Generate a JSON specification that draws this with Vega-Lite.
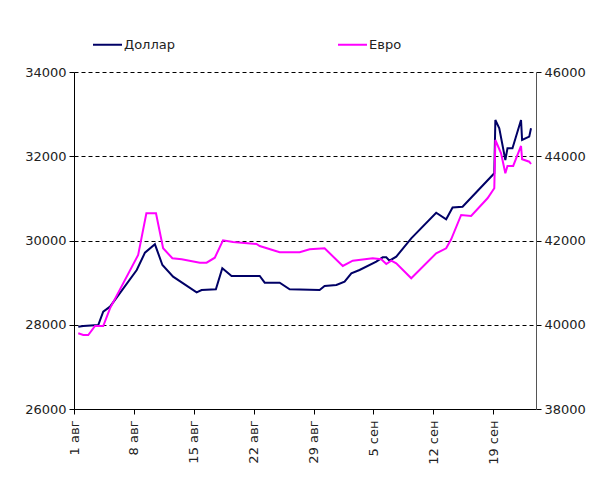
{
  "$schema": "https://vega.github.io/schema/vega-lite/v6.json",
  "width": 462,
  "height": 337,
  "autosize": {"type": "none"},
  "padding": {"left": 74, "top": 72, "right": 64, "bottom": 80},
  "background": "white",
  "config": {
    "view": {"stroke": null},
    "font": "DejaVu Sans",
    "axis": {"labelFont": "DejaVu Sans", "labelFontSize": 13, "labelColor": "#222", "domainColor": "#000", "tickColor": "#000", "tickSize": 5, "labelPadding": 3}
  },
  "datasets": {
    "rates": [
      {"date": "2011-08-01T12:00:00Z", "currency": "Доллар", "rate": 27954},
      {"date": "2011-08-02T02:00:00Z", "currency": "Доллар", "rate": 27970},
      {"date": "2011-08-03T20:00:00Z", "currency": "Доллар", "rate": 27994},
      {"date": "2011-08-04T10:00:00Z", "currency": "Доллар", "rate": 28310},
      {"date": "2011-08-05T05:00:00Z", "currency": "Доллар", "rate": 28429},
      {"date": "2011-08-08T08:00:00Z", "currency": "Доллар", "rate": 29300},
      {"date": "2011-08-09T07:00:00Z", "currency": "Доллар", "rate": 29711},
      {"date": "2011-08-10T11:00:00Z", "currency": "Доллар", "rate": 29910},
      {"date": "2011-08-11T08:00:00Z", "currency": "Доллар", "rate": 29419},
      {"date": "2011-08-12T14:00:00Z", "currency": "Доллар", "rate": 29141},
      {"date": "2011-08-15T08:00:00Z", "currency": "Доллар", "rate": 28770},
      {"date": "2011-08-15T22:00:00Z", "currency": "Доллар", "rate": 28825},
      {"date": "2011-08-17T14:00:00Z", "currency": "Доллар", "rate": 28842},
      {"date": "2011-08-18T08:00:00Z", "currency": "Доллар", "rate": 29340},
      {"date": "2011-08-19T10:00:00Z", "currency": "Доллар", "rate": 29157},
      {"date": "2011-08-22T17:00:00Z", "currency": "Доллар", "rate": 29157},
      {"date": "2011-08-23T07:00:00Z", "currency": "Доллар", "rate": 28998},
      {"date": "2011-08-25T01:00:00Z", "currency": "Доллар", "rate": 28998},
      {"date": "2011-08-26T05:00:00Z", "currency": "Доллар", "rate": 28842},
      {"date": "2011-08-29T17:00:00Z", "currency": "Доллар", "rate": 28826},
      {"date": "2011-08-30T07:00:00Z", "currency": "Доллар", "rate": 28920},
      {"date": "2011-08-31T16:00:00Z", "currency": "Доллар", "rate": 28944},
      {"date": "2011-09-01T15:00:00Z", "currency": "Доллар", "rate": 29022},
      {"date": "2011-09-02T10:00:00Z", "currency": "Доллар", "rate": 29221},
      {"date": "2011-09-03T09:00:00Z", "currency": "Доллар", "rate": 29300},
      {"date": "2011-09-05T08:00:00Z", "currency": "Доллар", "rate": 29497},
      {"date": "2011-09-06T02:00:00Z", "currency": "Доллар", "rate": 29601},
      {"date": "2011-09-06T12:00:00Z", "currency": "Доллар", "rate": 29601},
      {"date": "2011-09-06T21:00:00Z", "currency": "Доллар", "rate": 29521},
      {"date": "2011-09-07T16:00:00Z", "currency": "Доллар", "rate": 29616},
      {"date": "2011-09-09T10:00:00Z", "currency": "Доллар", "rate": 30052},
      {"date": "2011-09-12T08:00:00Z", "currency": "Доллар", "rate": 30660},
      {"date": "2011-09-13T12:00:00Z", "currency": "Доллар", "rate": 30503},
      {"date": "2011-09-14T06:00:00Z", "currency": "Доллар", "rate": 30785},
      {"date": "2011-09-15T10:00:00Z", "currency": "Доллар", "rate": 30800},
      {"date": "2011-09-19T03:00:00Z", "currency": "Доллар", "rate": 31595},
      {"date": "2011-09-19T06:00:00Z", "currency": "Доллар", "rate": 32861},
      {"date": "2011-09-19T17:00:00Z", "currency": "Доллар", "rate": 32664},
      {"date": "2011-09-20T10:00:00Z", "currency": "Доллар", "rate": 31911},
      {"date": "2011-09-20T16:00:00Z", "currency": "Доллар", "rate": 32189},
      {"date": "2011-09-21T06:00:00Z", "currency": "Доллар", "rate": 32189},
      {"date": "2011-09-22T06:00:00Z", "currency": "Доллар", "rate": 32861},
      {"date": "2011-09-22T09:00:00Z", "currency": "Доллар", "rate": 32386},
      {"date": "2011-09-23T05:00:00Z", "currency": "Доллар", "rate": 32465},
      {"date": "2011-09-23T10:00:00Z", "currency": "Доллар", "rate": 32664},
      {"date": "2011-08-01T12:00:00Z", "currency": "Евро", "rate": 39797},
      {"date": "2011-08-02T02:00:00Z", "currency": "Евро", "rate": 39757},
      {"date": "2011-08-02T16:00:00Z", "currency": "Евро", "rate": 39757},
      {"date": "2011-08-03T11:00:00Z", "currency": "Евро", "rate": 39970},
      {"date": "2011-08-04T10:00:00Z", "currency": "Евро", "rate": 39970},
      {"date": "2011-08-05T05:00:00Z", "currency": "Евро", "rate": 40390},
      {"date": "2011-08-08T12:00:00Z", "currency": "Евро", "rate": 41656},
      {"date": "2011-08-09T11:00:00Z", "currency": "Евро", "rate": 42646},
      {"date": "2011-08-10T14:00:00Z", "currency": "Евро", "rate": 42646},
      {"date": "2011-08-11T10:00:00Z", "currency": "Евро", "rate": 41815},
      {"date": "2011-08-12T12:00:00Z", "currency": "Евро", "rate": 41578},
      {"date": "2011-08-13T14:00:00Z", "currency": "Евро", "rate": 41554},
      {"date": "2011-08-15T17:00:00Z", "currency": "Евро", "rate": 41473},
      {"date": "2011-08-16T12:00:00Z", "currency": "Евро", "rate": 41473},
      {"date": "2011-08-17T11:00:00Z", "currency": "Евро", "rate": 41592},
      {"date": "2011-08-18T10:00:00Z", "currency": "Евро", "rate": 42005},
      {"date": "2011-08-19T14:00:00Z", "currency": "Евро", "rate": 41965},
      {"date": "2011-08-22T08:00:00Z", "currency": "Евро", "rate": 41917},
      {"date": "2011-08-22T17:00:00Z", "currency": "Евро", "rate": 41870},
      {"date": "2011-08-25T01:00:00Z", "currency": "Евро", "rate": 41720},
      {"date": "2011-08-27T09:00:00Z", "currency": "Евро", "rate": 41720},
      {"date": "2011-08-28T13:00:00Z", "currency": "Евро", "rate": 41791},
      {"date": "2011-08-30T07:00:00Z", "currency": "Евро", "rate": 41815},
      {"date": "2011-09-01T10:00:00Z", "currency": "Евро", "rate": 41395},
      {"date": "2011-09-02T14:00:00Z", "currency": "Евро", "rate": 41520},
      {"date": "2011-09-04T22:00:00Z", "currency": "Евро", "rate": 41578},
      {"date": "2011-09-05T22:00:00Z", "currency": "Евро", "rate": 41554},
      {"date": "2011-09-06T12:00:00Z", "currency": "Евро", "rate": 41442},
      {"date": "2011-09-07T02:00:00Z", "currency": "Евро", "rate": 41520},
      {"date": "2011-09-07T16:00:00Z", "currency": "Евро", "rate": 41459},
      {"date": "2011-09-09T10:00:00Z", "currency": "Евро", "rate": 41103},
      {"date": "2011-09-12T08:00:00Z", "currency": "Евро", "rate": 41696},
      {"date": "2011-09-13T12:00:00Z", "currency": "Евро", "rate": 41815},
      {"date": "2011-09-14T02:00:00Z", "currency": "Евро", "rate": 42029},
      {"date": "2011-09-15T06:00:00Z", "currency": "Евро", "rate": 42606},
      {"date": "2011-09-16T10:00:00Z", "currency": "Евро", "rate": 42582},
      {"date": "2011-09-18T08:00:00Z", "currency": "Евро", "rate": 43002},
      {"date": "2011-09-19T03:00:00Z", "currency": "Евро", "rate": 43239},
      {"date": "2011-09-19T06:00:00Z", "currency": "Евро", "rate": 44386},
      {"date": "2011-09-19T22:00:00Z", "currency": "Евро", "rate": 44070},
      {"date": "2011-09-20T10:00:00Z", "currency": "Евро", "rate": 43595},
      {"date": "2011-09-20T16:00:00Z", "currency": "Евро", "rate": 43769},
      {"date": "2011-09-21T08:00:00Z", "currency": "Евро", "rate": 43769},
      {"date": "2011-09-22T06:00:00Z", "currency": "Евро", "rate": 44244},
      {"date": "2011-09-22T09:00:00Z", "currency": "Евро", "rate": 43928},
      {"date": "2011-09-23T05:00:00Z", "currency": "Евро", "rate": 43871},
      {"date": "2011-09-23T10:00:00Z", "currency": "Евро", "rate": 43816}
    ]
  },
  "data": {"name": "rates"},
  "encoding": {
    "x": {
      "field": "date",
      "type": "temporal",
      "scale": {"type": "utc", "domain": [{"year": 2011, "month": 8, "date": 1, "utc": true}, {"year": 2011, "month": 9, "date": 24, "utc": true}]},
      "axis": {
        "title": null,
        "grid": false,
        "labelAngle": -90,
        "labelPadding": 6,
        "values": [
          {"year": 2011, "month": 8, "date": 1, "utc": true},
          {"year": 2011, "month": 8, "date": 8, "utc": true},
          {"year": 2011, "month": 8, "date": 15, "utc": true},
          {"year": 2011, "month": 8, "date": 22, "utc": true},
          {"year": 2011, "month": 8, "date": 29, "utc": true},
          {"year": 2011, "month": 9, "date": 5, "utc": true},
          {"year": 2011, "month": 9, "date": 12, "utc": true},
          {"year": 2011, "month": 9, "date": 19, "utc": true}
        ],
        "labelExpr": "utcdate(datum.value) + (utcmonth(datum.value) == 7 ? ' авг' : ' сен')"
      }
    },
    "color": {
      "field": "currency",
      "type": "nominal",
      "scale": {"domain": ["Доллар", "Евро"], "range": ["#000066", "#ff00ff"]},
      "legend": {
        "title": null,
        "orient": "none",
        "legendX": 18,
        "legendY": -43,
        "direction": "horizontal",
        "columns": 2,
        "columnPadding": 159,
        "padding": 0,
        "symbolType": "stroke",
        "symbolSize": 841,
        "symbolStrokeWidth": 2,
        "labelFontSize": 13,
        "labelFont": "DejaVu Sans",
        "labelColor": "#222",
        "labelOffset": 1
      }
    }
  },
  "layer": [
    {
      "transform": [{"filter": "datum.currency == 'Доллар'"}],
      "mark": {"type": "line", "strokeWidth": 2},
      "encoding": {
        "y": {
          "field": "rate",
          "type": "quantitative",
          "scale": {"domain": [26000, 34000], "nice": false, "zero": false},
          "axis": {"title": null, "orient": "left", "values": [26000, 28000, 30000, 32000, 34000], "format": "d", "grid": true, "gridColor": "#000", "gridDash": [4, 3], "gridWidth": 1}
        }
      }
    },
    {
      "transform": [{"filter": "datum.currency == 'Евро'"}],
      "mark": {"type": "line", "strokeWidth": 2},
      "encoding": {
        "y": {
          "field": "rate",
          "type": "quantitative",
          "scale": {"domain": [38000, 46000], "nice": false, "zero": false},
          "axis": {"title": null, "orient": "right", "values": [38000, 40000, 42000, 44000, 46000], "format": "d", "grid": false, "domainColor": "#555"}
        }
      }
    }
  ],
  "resolve": {"scale": {"y": "independent"}}
}
